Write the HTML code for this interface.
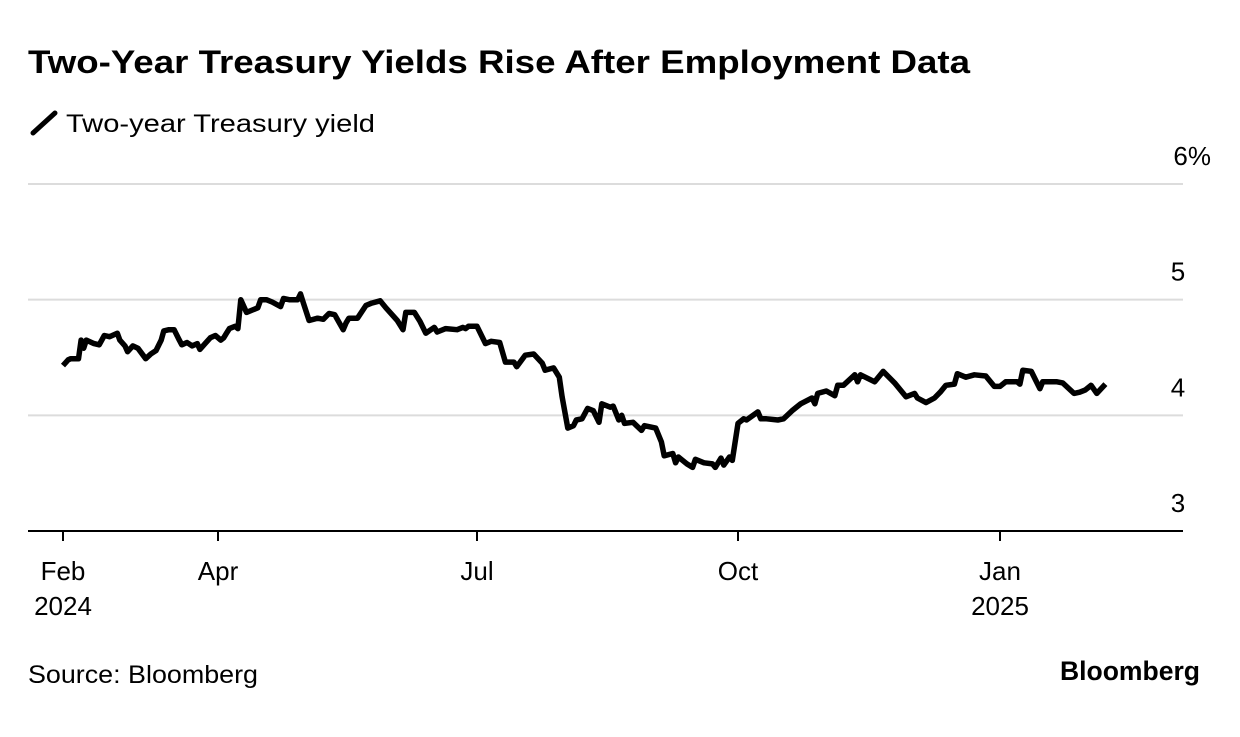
<!DOCTYPE html>
<html><head><meta charset="utf-8"><style>
body{margin:0;background:#fff;width:1240px;height:732px;overflow:hidden;font-family:"Liberation Sans",Arial,sans-serif;color:#000}
</style></head><body>
<svg id="chart" width="1240" height="732" xmlns="http://www.w3.org/2000/svg" font-family="Liberation Sans, Arial, sans-serif">
<text x="28" y="73" font-size="32" font-weight="bold" textLength="942" lengthAdjust="spacingAndGlyphs">Two-Year Treasury Yields Rise After Employment Data</text>
<line x1="33" y1="133" x2="55" y2="113" stroke="#000" stroke-width="5" stroke-linecap="round"/>
<text x="66" y="132" font-size="25" textLength="309" lengthAdjust="spacingAndGlyphs">Two-year Treasury yield</text>
<g id="grid"></g><g id="xaxis"></g>
<path id="line" fill="none" stroke="#000" stroke-width="5.5" stroke-linejoin="round"/>
<text x="28" y="683" font-size="25" textLength="230" lengthAdjust="spacingAndGlyphs">Source: Bloomberg</text>
<text x="1200" y="680" font-size="27" font-weight="bold" text-anchor="end" textLength="140" lengthAdjust="spacingAndGlyphs">Bloomberg</text>
</svg>
<script>
const days=[0,2,3,6,7,8,9,12,14,16,18,21,22,24,25,27,29,30,32,34,36,38,39,41,43,45,46,48,50,52,53,55,57,59,61,62,63,64,66,67,68,70,74,75,77,79,82,83,85,88,89,90,92,95,97,99,101,104,105,106,109,112,114,117,119,123,125,126,129,131,133,136,137,140,144,146,147,148,151,154,156,159,161,164,165,168,171,174,175,178,180,181,183,185,186,188,190,192,194,195,198,199,201,202,203,206,209,210,214,216,217,220,221,222,225,227,228,231,234,235,237,238,240,241,243,245,246,250,251,253,257,259,262,265,269,270,271,274,277,278,280,284,285,286,291,294,298,302,305,306,309,312,314,316,319,320,323,326,330,333,335,337,341,342,343,346,349,350,355,357,361,363,365,367,369,372];
const yields=[4.43,4.48,4.49,4.49,4.65,4.58,4.65,4.62,4.61,4.69,4.68,4.71,4.65,4.60,4.55,4.60,4.58,4.55,4.49,4.53,4.56,4.65,4.73,4.74,4.74,4.65,4.61,4.63,4.60,4.62,4.57,4.62,4.67,4.69,4.65,4.67,4.71,4.75,4.77,4.75,5.00,4.89,4.93,5.00,5.00,4.98,4.94,5.01,5.00,5.00,5.05,4.97,4.82,4.84,4.83,4.88,4.87,4.74,4.80,4.84,4.84,4.95,4.97,4.99,4.93,4.82,4.74,4.89,4.89,4.81,4.71,4.76,4.72,4.75,4.74,4.76,4.75,4.77,4.77,4.62,4.64,4.63,4.46,4.46,4.42,4.52,4.53,4.45,4.39,4.41,4.33,4.16,3.89,3.91,3.96,3.97,4.06,4.04,3.94,4.10,4.07,4.08,3.96,4.00,3.93,3.94,3.87,3.91,3.89,3.77,3.65,3.67,3.59,3.64,3.58,3.55,3.62,3.59,3.58,3.55,3.63,3.57,3.64,3.61,3.93,3.97,3.96,4.03,3.97,3.97,3.96,3.97,4.04,4.10,4.15,4.10,4.19,4.21,4.17,4.26,4.26,4.35,4.29,4.35,4.29,4.38,4.28,4.16,4.19,4.15,4.11,4.15,4.20,4.26,4.27,4.36,4.33,4.35,4.34,4.25,4.25,4.29,4.29,4.27,4.39,4.38,4.23,4.29,4.29,4.28,4.19,4.20,4.22,4.26,4.19,4.27];
const tickDays=[0,60,151,243,335];
const tickLabels=["Feb","Apr","Jul","Oct","Jan"];
const tickYears=["2024","","","","2025"];
const yTicks=[3,4,5,6];
const tickPx=[63,218,477,738,1000];
function x(d){for(let i=0;i<tickDays.length-1;i++){if(d<=tickDays[i+1]||i===tickDays.length-2){return tickPx[i]+(d-tickDays[i])*(tickPx[i+1]-tickPx[i])/(tickDays[i+1]-tickDays[i]);}}}
function y(v){return 531-(v-3)*115.67;}
const NS="http://www.w3.org/2000/svg";
const grid=document.getElementById('grid'),xa=document.getElementById('xaxis');
yTicks.forEach(t=>{
  if(t>3){const l=document.createElementNS(NS,'line');
  
  
  l.setAttribute('x1',28);l.setAttribute('x2',1183);l.setAttribute('y1',y(t));l.setAttribute('y2',y(t));
  l.setAttribute('stroke','#dcdcdc');l.setAttribute('stroke-width',2);grid.appendChild(l);}
  const tx=document.createElementNS(NS,'text');
  
  
  tx.setAttribute('x',t===6?1211:1178);tx.setAttribute('y',y(t)-19);tx.setAttribute('font-size',26);tx.setAttribute('text-anchor',t===6?'end':'middle');
  tx.textContent=t===6?'6%':String(t);grid.appendChild(tx);
});
const ax=document.createElementNS(NS,'line');


ax.setAttribute('x1',28);ax.setAttribute('x2',1183);ax.setAttribute('y1',531);ax.setAttribute('y2',531);ax.setAttribute('stroke','#000');ax.setAttribute('stroke-width',2);xa.appendChild(ax);
tickDays.forEach((d,i)=>{
  const l=document.createElementNS(NS,'line');
  
  
  l.setAttribute('x1',x(d));l.setAttribute('x2',x(d));l.setAttribute('y1',531);l.setAttribute('y2',541);l.setAttribute('stroke','#000');l.setAttribute('stroke-width',2);xa.appendChild(l);
  const t=document.createElementNS(NS,'text');
  
  
  t.setAttribute('x',x(d));t.setAttribute('y',580);t.setAttribute('font-size',26);t.setAttribute('text-anchor','middle');t.textContent=tickLabels[i];xa.appendChild(t);
  if(tickYears[i]){const t2=document.createElementNS(NS,'text');
  
  
  t2.setAttribute('x',x(d));t2.setAttribute('y',615);t2.setAttribute('font-size',26);t2.setAttribute('text-anchor','middle');t2.textContent=tickYears[i];xa.appendChild(t2);}
});
document.getElementById('line').setAttribute('d',days.map((d,i)=>(i?'L':'M')+x(d).toFixed(1)+','+y(yields[i]).toFixed(1)).join(''));
</script>
</body></html>
